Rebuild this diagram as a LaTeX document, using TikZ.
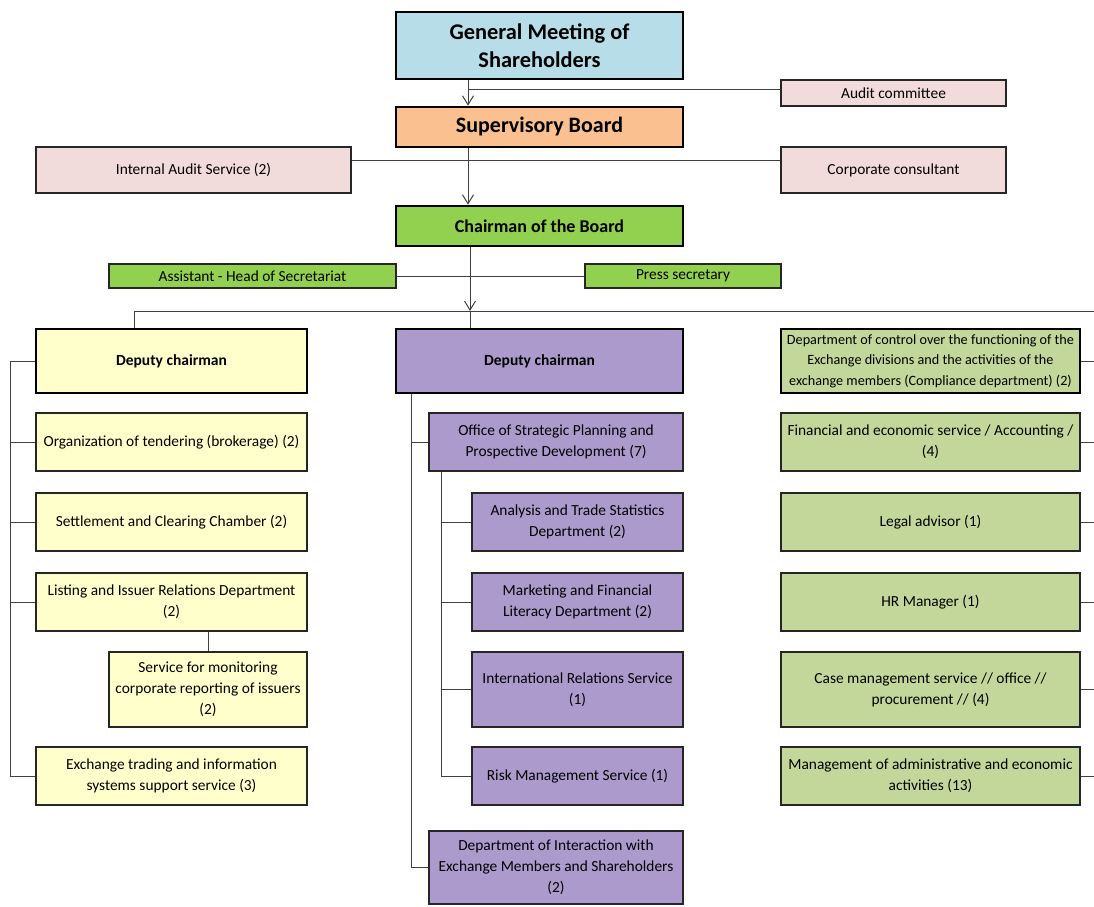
\documentclass[tikz,border=0pt]{standalone}
\usepackage{fontspec}
\setmainfont{Carlito}
\usetikzlibrary{arrows.meta}

\definecolor{gmsblue}{HTML}{B7DEE8}
\definecolor{sborange}{HTML}{FAC090}
\definecolor{auditpink}{HTML}{F2DCDB}
\definecolor{chairgreen}{HTML}{92D050}
\definecolor{depyellow}{HTML}{FFFFCC}
\definecolor{deppurple}{HTML}{AC9ACD}
\definecolor{sidegreen}{HTML}{C4D79B}

\begin{document}
\begin{tikzpicture}[x=1pt,y=-1pt,
    unit/.style={rectangle, draw=black!85, line width=1.2pt, inner sep=2pt, align=center,
                 font=\fontsize{15.4}{21}\selectfont},
    head/.style={unit, draw=black, line width=2.6pt},
    size/.style 2 args={minimum width=#1pt, minimum height=#2pt},
    link/.style={draw=black!75, line width=1pt},
    arrow/.style={link, -{Straight Barb[length=9pt,width=11pt]}}]
  \useasboundingbox (0,0) rectangle (1094,906);

  % top of the structure
  \node[head, fill=gmsblue, size={287}{67}, font=\fontsize{22.4}{28}\selectfont\bfseries] (gms) at (539.5,45.5) {General Meeting of\\Shareholders};
  \node[unit, fill=auditpink, size={225}{26}] (audit) at (893.5,93) {Audit committee};
  \node[head, fill=sborange, size={287}{40}, font=\fontsize{22}{28}\selectfont\bfseries] (sb) at (539.5,127) {Supervisory Board};
  \node[unit, fill=auditpink, size={315}{46}] (ias) at (193.5,170) {Internal Audit Service (2)};
  \node[unit, fill=auditpink, size={225}{46}] (cc) at (893.5,170) {Corporate consultant};
  \node[head, fill=chairgreen, size={287}{40}, font=\fontsize{18}{22}\selectfont\bfseries] (chair) at (539.5,226) {Chairman of the Board};
  \node[unit, fill=chairgreen, size={287}{24}] (asst) at (252.5,276) {Assistant - Head of Secretariat};
  \node[unit, fill=chairgreen, size={196}{24}] (press) at (683,276) {Press secretary};

  % deputies
  \node[head, fill=depyellow, size={271}{64}, font=\fontsize{15.5}{21}\selectfont\bfseries] (depy) at (171.5,361) {Deputy chairman};
  \node[head, fill=deppurple, size={287}{64}, font=\fontsize{15.5}{21}\selectfont\bfseries] (depp) at (539.5,361) {Deputy chairman};
  \node[head, fill=sidegreen, size={299}{64}, font=\fontsize{14.2}{20.5}\selectfont] (comp) at (930.5,361) {Department of control over the functioning of the\\Exchange divisions and the activities of the\\exchange members (Compliance department) (2)};

  % left column
  \node[unit, fill=depyellow, size={271}{58}] (tender) at (171.5,442) {Organization of tendering (brokerage) (2)};
  \node[unit, fill=depyellow, size={271}{58}] (settle) at (171.5,522) {Settlement and Clearing Chamber (2)};
  \node[unit, fill=depyellow, size={271}{58}] (listing) at (171.5,602) {Listing and Issuer Relations Department\\(2)};
  \node[unit, fill=depyellow, size={198}{75}] (monitor) at (208,689.5) {Service for monitoring\\corporate reporting of issuers\\(2)};
  \node[unit, fill=depyellow, size={271}{58}] (trading) at (171.5,776) {Exchange trading and information\\systems support service (3)};

  % middle column
  \node[unit, fill=deppurple, size={254}{58}] (office) at (556,442) {Office of Strategic Planning and\\Prospective Development (7)};
  \node[unit, fill=deppurple, size={211}{58}] (analysis) at (577.5,522) {Analysis and Trade Statistics\\Department (2)};
  \node[unit, fill=deppurple, size={211}{58}] (marketing) at (577.5,602) {Marketing and Financial\\Literacy Department (2)};
  \node[unit, fill=deppurple, size={211}{75}] (intl) at (577.5,689.5) {International Relations Service\\(1)};
  \node[unit, fill=deppurple, size={211}{58}] (risk) at (577.5,776) {Risk Management Service (1)};
  \node[unit, fill=deppurple, size={254}{73}] (interact) at (556,867.5) {Department of Interaction with\\Exchange Members and Shareholders\\(2)};

  % right column
  \node[unit, fill=sidegreen, size={299}{58}] (finance) at (930.5,442) {Financial and economic service / Accounting /\\(4)};
  \node[unit, fill=sidegreen, size={299}{58}] (legal) at (930.5,522) {Legal advisor (1)};
  \node[unit, fill=sidegreen, size={299}{58}] (hr) at (930.5,602) {HR Manager (1)};
  \node[unit, fill=sidegreen, size={299}{75}] (cases) at (930.5,689.5) {Case management service // office //\\procurement // (4)};
  \node[unit, fill=sidegreen, size={299}{58}] (admin) at (930.5,776) {Management of administrative and economic\\activities (13)};

  % connectors
  \coordinate (top) at (468,0);
  \coordinate (bus) at (470,311);
  \coordinate (busl) at (134,311);
  \coordinate (busr) at (1094,311);
  \coordinate (spl) at (10,0);
  \coordinate (spm) at (411,0);
  \coordinate (sps) at (441,0);
  \coordinate (spr) at (1094,0);

  \draw[arrow] (gms.south -| top) -- (sb.north -| top);
  \draw[link] ([yshift=4pt]audit.west) -- ([yshift=4pt]audit.west -| top);
  \draw[arrow] (sb.south -| top) -- (chair.north -| top);
  \draw[link] ([yshift=10pt]ias.east) -- ([yshift=10pt]cc.west);
  \draw[link] (asst.east) -- (press.west);
  \draw[arrow] (chair.south -| bus) -- (bus);
  \draw[link] (bus) -- (depp.north -| bus);
  \draw[link] (depy.north -| busl) -- (busl) -- (busr);

  \draw[link] (depy.west) -- (depy.west -| spl) -- (trading.west -| spl) -- (trading.west);
  \foreach \n in {tender,settle,listing}
    \draw[link] (\n.west -| spl) -- (\n.west);
  \draw[link] (listing.south -| monitor) -- (monitor.north);

  \draw[link] (depp.south -| spm) -- (interact.west -| spm) -- (interact.west);
  \draw[link] (office.west -| spm) -- (office.west);
  \draw[link] (office.south -| sps) -- (risk.west -| sps) -- (risk.west);
  \foreach \n in {analysis,marketing,intl}
    \draw[link] (\n.west -| sps) -- (\n.west);

  \foreach \n in {comp,finance,legal,hr,cases,admin}
    \draw[link] (\n.east) -- (\n.east -| spr);
\end{tikzpicture}
\end{document}
